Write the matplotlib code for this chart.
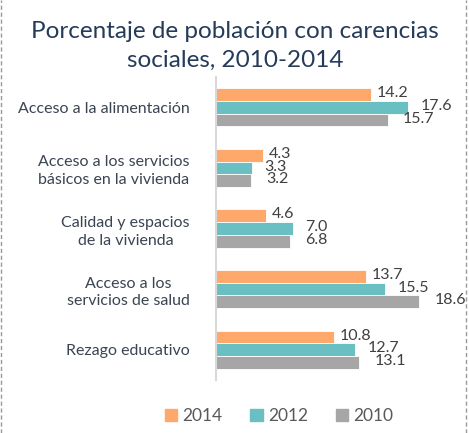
import numpy as np
import matplotlib.pyplot as plt
from matplotlib.lines import Line2D

plt.rcParams['font.family'] = ['Lato', 'DejaVu Sans']

categorias = ['Acceso a la alimentación',
              'Acceso a los servicios\nbásicos en la vivienda',
              'Calidad y espacios\nde la vivienda',
              'Acceso a los\nservicios de salud',
              'Rezago educativo']
series = ['2014', '2012', '2010']
v2014 = [14.2, 4.3, 4.6, 13.7, 10.8]
v2012 = [17.6, 3.3, 7.0, 15.5, 12.7]
v2010 = [15.7, 3.2, 6.8, 18.6, 13.1]
colores = ['#FFA86B', '#6ABFC2', '#A6A6A6']

fig = plt.figure(figsize=(4.69, 4.33), dpi=100)
ax = fig.add_axes([0.4606, 0.1224, 0.466, 0.6998])

y = np.arange(len(categorias))
h = 0.21
# desplazamiento de etiquetas (puntos) por serie, como en el original
offs = [4, 9, 11]
for i, (vals, col) in enumerate(zip([v2014, v2012, v2010], colores)):
    pos = y + (i - 1) * h
    ax.barh(pos, vals, height=h, color=col, edgecolor='white', linewidth=0.6, label=series[i])
    for p, v in zip(pos, vals):
        ax.annotate(f'{v:.1f}', (v, p), xytext=(offs[i], 1), textcoords='offset points',
                    ha='left', va='center', fontsize=11.5, color='#404040', annotation_clip=False)

ax.set_ylim(4.5, -0.5)
ax.set_xlim(0, 20)
ax.set_yticks(y)
ax.set_yticklabels(categorias, fontsize=11.5, color='#3B4453', multialignment='center',
                   linespacing=1.35)
ax.tick_params(axis='y', length=0, pad=19)
ax.set_xticks([])
for s in ['top', 'right', 'bottom']:
    ax.spines[s].set_visible(False)
ax.spines['left'].set_color('#D9D9D9')
ax.spines['left'].set_linewidth(1.5)

fig.text(0.501, 0.894, 'Porcentaje de población con carencias\nsociales, 2010-2014',
         ha='center', va='center', fontsize=17.5, color='#243B5A', linespacing=1.5)

handles = [plt.Rectangle((0, 0), 1, 1, color=c) for c in colores]
fig.legend(handles, series, loc='center', bbox_to_anchor=(0.595, 0.04), ncol=3, frameon=False,
           fontsize=12.5, handlelength=0.7, handleheight=0.7, columnspacing=1.6, handletextpad=0.3,
           labelcolor='#595959')

# bordes discontinuos izquierdo y derecho
fig.add_artist(Line2D([0.003, 0.003], [0, 1], transform=fig.transFigure, color='#999999',
                      linestyle=(0, (3, 2)), linewidth=1))
fig.add_artist(Line2D([0.994, 0.994], [0, 1], transform=fig.transFigure, color='#999999',
                      linestyle=(0, (3, 2)), linewidth=1))

fig.savefig('out.png', dpi=100)
